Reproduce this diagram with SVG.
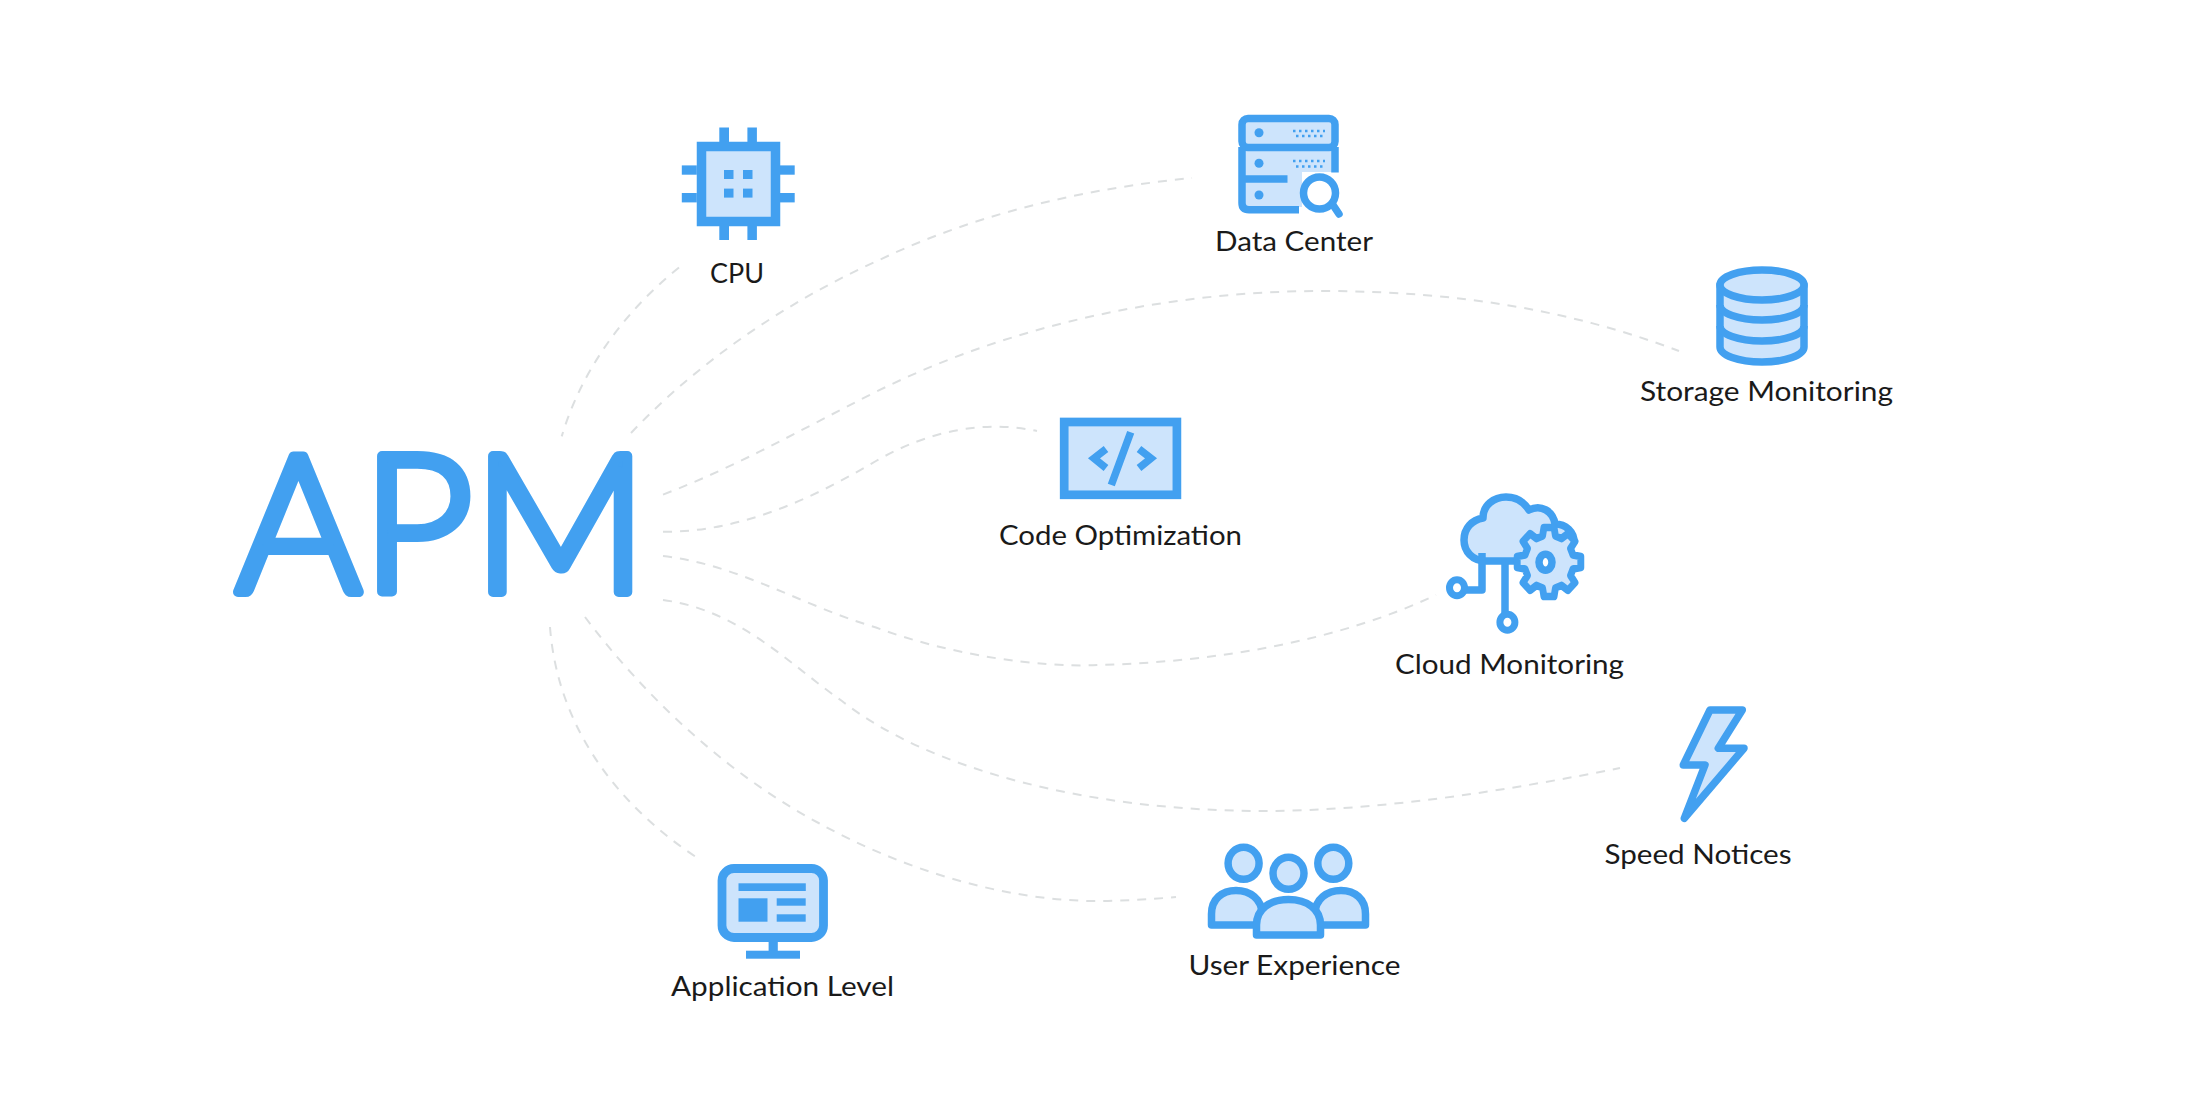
<svg xmlns="http://www.w3.org/2000/svg" width="2200" height="1101" viewBox="0 0 2200 1101">
<style>
.lb{font-family:"Lato","Noto Sans",sans-serif;font-size:27px;font-weight:400;fill:#1a1a1a}
.b{fill:#42a0f0}
.o{fill:#cde4fc;stroke:#42a0f0;stroke-width:7.5;stroke-linejoin:round}
.l{fill:none;stroke:#42a0f0;stroke-width:7.5;stroke-linejoin:round}
.cn path{fill:none;stroke:#dcdfe0;stroke-width:2;stroke-dasharray:9 8}
</style>
<rect width="2200" height="1101" fill="#fff"/>
<g id="connectors" class="cn">
<path d="M679 267.5C620 315 580 375 561.7 436.4"/>
<path d="M631 433C700 360 790 300 880 259.6C980 212 1090 188 1192 178"/>
<path d="M663 494.6C740 465 800 430 876 391.8C1010 325 1170 290 1331 291C1460 292 1570 310 1679 351"/>
<path d="M663 531.8C740 532 810 500 876 461C930 430 985 420 1037 431"/>
<path d="M663 556C740 565 800 605 876 627.5C950 655 1040 668 1098 665C1220 662 1340 640 1436 595"/>
<path d="M663 600C740 610 790 665 842 701C930 770 1090 811 1263 811C1380 811 1510 790 1620 768"/>
<path d="M585 617C640 690 720 770 818.6 823C900 868 1010 905 1114.5 900.7C1135 900 1155 899 1176 897"/>
<path d="M550 627C557 720 610 800 696 857"/>
</g>
<g id="apm">
<text x="235.6 362 473" y="591.5" font-family="Lato,'Noto Sans',sans-serif" font-weight="300" font-size="192" fill="#42a0f0" stroke="#42a0f0" stroke-width="10" stroke-linejoin="round">APM</text>
</g>
<g id="cpu">
<rect x="701.5" y="146.5" width="74" height="75" fill="#cde4fc" stroke="#42a0f0" stroke-width="9.5"/>
<g class="b">
<rect x="719.3" y="127.5" width="9.7" height="15"/><rect x="747.4" y="127.5" width="9.5" height="15"/>
<rect x="719.3" y="226" width="9.7" height="14"/><rect x="747.4" y="226" width="9.5" height="14"/>
<rect x="681.8" y="165.4" width="15" height="9.3"/><rect x="681.8" y="193" width="15" height="9.4"/>
<rect x="780" y="165.4" width="14.7" height="9.3"/><rect x="780" y="193" width="14.7" height="9.4"/>
<rect x="724" y="170" width="9.5" height="9"/><rect x="743" y="170" width="9.5" height="9"/>
<rect x="724" y="188.6" width="9.5" height="9"/><rect x="743" y="188.6" width="9.5" height="9"/>
</g>
<text class="lb" x="710" y="283" textLength="54" lengthAdjust="spacingAndGlyphs">CPU</text>
</g>
<g id="data-center">
<path d="M1245 122H1332V172H1302V207H1245Z" fill="#cde4fc"/>
<rect x="1242" y="118.5" width="93" height="29" rx="6" fill="none" stroke="#42a0f0" stroke-width="7.5"/>
<path d="M1242 147V179M1335 147V172.6M1242 179H1287.5M1242 179V203Q1242 209.7 1249 209.7H1299" fill="none" stroke="#42a0f0" stroke-width="7.5"/>
<ellipse class="b" cx="1259" cy="132.7" rx="4.5" ry="4.5"/><ellipse class="b" cx="1259" cy="163.3" rx="4.5" ry="4.5"/><ellipse class="b" cx="1259" cy="195" rx="4.5" ry="4.5"/>
<path d="M1293 131H1325M1296 136H1325M1293 161H1325M1296 166.5H1325" fill="none" stroke="#42a0f0" stroke-width="2.5" stroke-dasharray="2.5 3.5"/>
<circle cx="1319.5" cy="193" r="16" fill="#fff" stroke="#42a0f0" stroke-width="7.5"/>
<path d="M1333 205L1339 214" fill="none" stroke="#42a0f0" stroke-width="7.5" stroke-linecap="round"/>
<text class="lb" x="1215" y="251" textLength="158" lengthAdjust="spacingAndGlyphs">Data Center</text>
</g>
<g id="storage-monitoring">
<path class="o" d="M1720 285V347C1720 355 1738 362 1762 362C1786 362 1804 355 1804 347V285Z"/>
<path class="l" d="M1720 305C1720 313 1738 320 1762 320C1786 320 1804 313 1804 305M1720 326C1720 334 1738 341 1762 341C1786 341 1804 334 1804 326"/>
<ellipse class="o" cx="1762" cy="285" rx="42" ry="15"/>
<text class="lb" x="1640" y="401" textLength="253" lengthAdjust="spacingAndGlyphs">Storage Monitoring</text>
</g>
<g id="code-optimization">
<rect x="1064.2" y="422" width="112.7" height="72.8" fill="#cde4fc" stroke="#42a0f0" stroke-width="8.7"/>
<path d="M1106 449L1094 458.3L1106 468M1139 449L1151 458.3L1139 468M1130.7 432.3L1111.3 485" fill="none" stroke="#42a0f0" stroke-width="7.5"/>
<text class="lb" x="999" y="545" textLength="243" lengthAdjust="spacingAndGlyphs">Code Optimization</text>
</g>
<g id="cloud-monitoring">
<path class="o" d="M1514 561H1486C1472 561 1464 551 1464 540C1464 528 1472 520 1483 518C1483 505 1494 497 1506 497C1516 497 1524 502 1529 510C1541 504 1553 511 1555 524C1566 524 1574 532 1574 542L1514 561Z"/>
<path class="l" d="M1482 553V590H1466M1505 561V613"/>
<ellipse cx="1457" cy="587.7" rx="7.5" ry="8" fill="#fff" stroke="#42a0f0" stroke-width="7"/>
<ellipse cx="1507.4" cy="622.3" rx="7.5" ry="8" fill="#fff" stroke="#42a0f0" stroke-width="7"/>
<polygon class="o" transform="translate(1549 562) scale(.92 1)" points="26.08,-6.99 34.57,-5.48 34.57,5.48 26.08,6.99 23.38,13.5 28.32,20.57 20.57,28.32 13.5,23.38 6.99,26.08 5.48,34.57 -5.48,34.57 -6.99,26.08 -13.5,23.38 -20.57,28.32 -28.32,20.57 -23.38,13.5 -26.08,6.99 -34.57,5.48 -34.57,-5.48 -26.08,-6.99 -23.38,-13.5 -28.32,-20.57 -20.57,-28.32 -13.5,-23.38 -6.99,-26.08 -5.48,-34.57 5.48,-34.57 6.99,-26.08 13.5,-23.38 20.57,-28.32 28.32,-20.57 23.38,-13.5"/>
<ellipse cx="1545.5" cy="562.3" rx="6.5" ry="8" fill="#fff" stroke="#42a0f0" stroke-width="7.5"/>
<text class="lb" x="1395" y="674" textLength="229" lengthAdjust="spacingAndGlyphs">Cloud Monitoring</text>
</g>
<g id="speed-notices">
<polygon class="o" points="1710,710 1742.3,710 1718.3,748.3 1744,748.3 1684.3,818.3 1705,765 1683.3,765"/>
<text class="lb" x="1604.5" y="863.7" textLength="187" lengthAdjust="spacingAndGlyphs">Speed Notices</text>
</g>
<g id="user-experience">
<ellipse class="o" cx="1243.6" cy="863.3" rx="15.5" ry="16"/>
<ellipse class="o" cx="1333.3" cy="863.3" rx="15.5" ry="16"/>
<path class="o" d="M1211.5 925V914C1211.5 899 1222 890.5 1236 890.5C1250 890.5 1262 899 1262 914V925Z"/>
<path class="o" d="M1365.5 925V914C1365.5 899 1355 890.5 1341 890.5C1327 890.5 1315 899 1315 914V925Z"/>
<ellipse class="o" cx="1288.5" cy="873.3" rx="15.5" ry="16"/>
<path class="o" d="M1256.5 935V925C1256.5 909 1270 899.5 1288.5 899.5C1307 899.5 1320.5 909 1320.5 925V935Z"/>
<text class="lb" x="1188.5" y="975" textLength="212" lengthAdjust="spacingAndGlyphs">User Experience</text>
</g>
<g id="application-level">
<rect x="722" y="868.5" width="101.5" height="69" rx="12" fill="#cde4fc" stroke="#42a0f0" stroke-width="8.8"/>
<g class="b">
<rect x="768.6" y="941" width="9.2" height="10"/><rect x="746" y="950.7" width="54" height="8"/>
<rect x="738.5" y="883.3" width="67.3" height="7.7"/><rect x="738.5" y="898.3" width="29" height="23.4"/>
<rect x="776.7" y="898.3" width="29" height="7.4"/><rect x="776.7" y="914.3" width="29" height="7.4"/>
</g>
<text class="lb" x="671" y="996" textLength="223" lengthAdjust="spacingAndGlyphs">Application Level</text>
</g>
</svg>
